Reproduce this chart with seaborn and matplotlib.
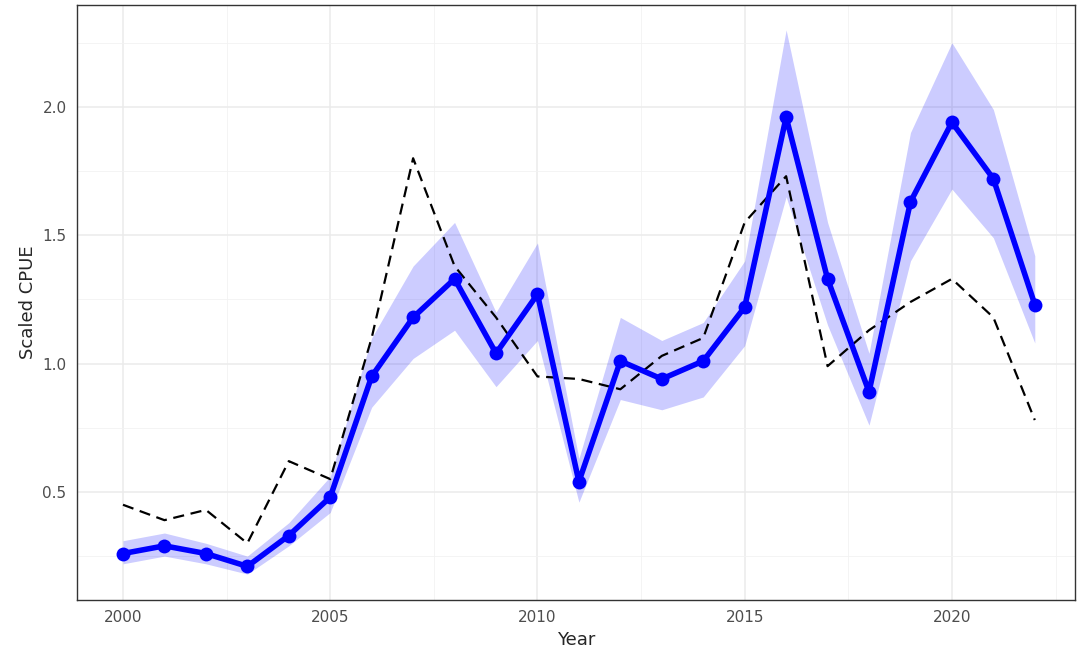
import numpy as np
import pandas as pd
import seaborn as sns
import matplotlib.pyplot as plt
from matplotlib.ticker import MultipleLocator

years = list(range(2000, 2023))
cpue = [0.26, 0.29, 0.26, 0.21, 0.33, 0.48, 0.95, 1.18, 1.33, 1.04, 1.27, 0.54,
        1.01, 0.94, 1.01, 1.22, 1.96, 1.33, 0.89, 1.63, 1.94, 1.72, 1.23]
lower = [0.22, 0.25, 0.22, 0.18, 0.29, 0.42, 0.83, 1.02, 1.13, 0.91, 1.09, 0.46,
         0.86, 0.82, 0.87, 1.07, 1.65, 1.15, 0.76, 1.40, 1.68, 1.49, 1.08]
upper = [0.31, 0.34, 0.30, 0.25, 0.38, 0.56, 1.10, 1.38, 1.55, 1.20, 1.47, 0.63,
         1.18, 1.09, 1.16, 1.40, 2.30, 1.55, 1.04, 1.90, 2.25, 1.99, 1.42]
nominal = [0.45, 0.39, 0.43, 0.30, 0.62, 0.55, 1.10, 1.80, 1.38, 1.18, 0.95, 0.94,
           0.90, 1.03, 1.10, 1.55, 1.73, 0.99, 1.13, 1.24, 1.33, 1.18, 0.78]

df = pd.DataFrame({'Year': years, 'CPUE': cpue, 'lo': lower, 'hi': upper, 'nominal': nominal})

sns.set_style('white')
fig = plt.figure(figsize=(10.77, 6.62), dpi=100)
ax = fig.add_axes([77 / 1077, 62 / 662, 998 / 1077, 595 / 662])

ax.fill_between(df['Year'], df['lo'], df['hi'], color='blue', alpha=0.2, linewidth=0)
sns.lineplot(data=df, x='Year', y='nominal', ax=ax, color='black', linestyle=(0, (5, 3)), linewidth=1.6)
sns.lineplot(data=df, x='Year', y='CPUE', ax=ax, color='blue', linewidth=4,
             marker='o', markersize=10, markeredgewidth=0)

ax.set_xlim(1998.89, 2022.97)
ax.set_ylim(0.079, 2.397)
ax.xaxis.set_major_locator(MultipleLocator(5))
ax.xaxis.set_minor_locator(MultipleLocator(2.5))
ax.yaxis.set_major_locator(MultipleLocator(0.5))
ax.yaxis.set_minor_locator(MultipleLocator(0.25))
ax.grid(which='major', color='#ebebeb', linewidth=1.1)
ax.grid(which='minor', color='#f2f2f2', linewidth=0.6)
ax.set_axisbelow(True)
for s in ax.spines.values():
    s.set_color('#333333')
    s.set_linewidth(1)
ax.tick_params(axis='both', which='major', length=4, color='#333333', labelsize=11, labelcolor='#4d4d4d')
ax.tick_params(which='minor', length=0)
ax.set_xlabel('Year', fontsize=13)
ax.set_ylabel('Scaled CPUE', fontsize=13)
fig.savefig('out.png', dpi=100)
